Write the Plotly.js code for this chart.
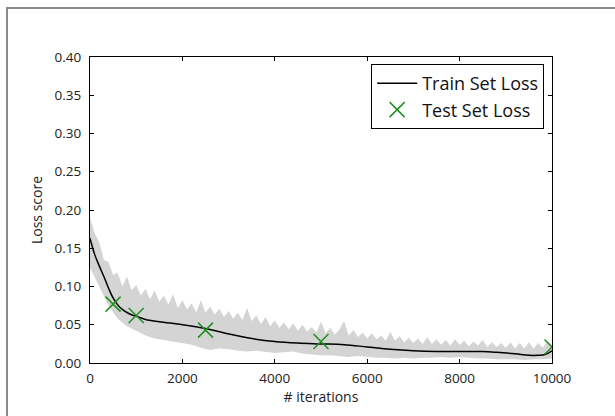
<!DOCTYPE html>
<html>
<head>
<meta charset="utf-8">
<script src="https://cdn.plot.ly/plotly-3.0.1.min.js"></script>
<style>
  html, body { margin: 0; padding: 0; background: #fff; }
  #wrap { position: relative; width: 615px; height: 416px; overflow: hidden; }
  #chart { width: 615px; height: 416px; }
  #frame { position: absolute; left: 6px; top: 7px; width: 700px; height: 500px;
           border-top: 2px solid #8a8a8a; border-left: 2px solid #8a8a8a; pointer-events: none; }
</style>
</head>
<body>
<div id="wrap">
  <div id="chart"></div>
  <div id="frame"></div>
</div>
<script>
// Raw training loss envelope (gray band)
const bandUpperX = [0,100,200,300,400,500,600,700,800,900,1000,1100,1200,1300,1400,1500,1600,1700,1800,1900,
  2000,2100,2200,2300,2400,2500,2600,2700,2800,2900,3000,3100,3200,3300,3400,3500,3600,3700,3800,3900,
  4000,4100,4200,4300,4400,4500,4600,4700,4800,4900,5000,5100,5200,5300,5400,5500,5600,5700,5800,5900,
  6000,6100,6200,6300,6400,6500,6600,6700,6800,6900,7000,7100,7200,7300,7400,7500,7600,7700,7800,7900,
  8000,8100,8200,8300,8400,8500,8600,8700,8800,8900,9000,9100,9200,9300,9400,9500,9600,9700,9800,9900,10000];
const bandUpperY = [0.190,0.170,0.158,0.135,0.132,0.115,0.118,0.100,0.113,0.095,0.102,0.088,0.097,0.083,0.095,0.080,0.088,0.076,0.090,0.072,
  0.082,0.070,0.078,0.066,0.082,0.066,0.074,0.063,0.071,0.060,0.068,0.058,0.066,0.056,0.072,0.055,0.062,0.051,0.060,0.048,
  0.056,0.046,0.053,0.044,0.052,0.042,0.050,0.041,0.047,0.040,0.054,0.039,0.046,0.037,0.044,0.055,0.036,0.043,0.034,0.040,
  0.032,0.039,0.031,0.036,0.029,0.041,0.029,0.035,0.027,0.033,0.026,0.032,0.025,0.034,0.025,0.031,0.024,0.030,0.023,0.031,
  0.024,0.029,0.022,0.028,0.023,0.030,0.021,0.027,0.021,0.026,0.020,0.027,0.019,0.026,0.019,0.027,0.019,0.026,0.020,0.028,0.024];
const bandLowerX = [0,200,400,600,800,1000,1200,1400,1600,1800,2000,2200,2400,2600,2800,3000,3200,3400,3600,3800,
  4000,4200,4400,4600,4800,5000,5200,5400,5600,5800,6000,6200,6400,6600,6800,7000,7200,7400,7600,7800,
  8000,8200,8400,8600,8800,9000,9200,9400,9600,9800,10000];
const bandLowerY = [0.125,0.100,0.075,0.058,0.048,0.042,0.036,0.032,0.030,0.028,0.027,0.024,0.020,0.017,0.019,0.018,0.016,0.015,0.016,0.014,
  0.013,0.014,0.015,0.012,0.011,0.010,0.010,0.009,0.008,0.009,0.008,0.007,0.007,0.006,0.007,0.006,0.007,0.007,0.008,0.007,
  0.008,0.007,0.006,0.006,0.005,0.005,0.005,0.004,0.005,0.005,0.006];

// Smoothed train set loss
const trainX = [0,100,200,300,400,500,600,700,800,900,1000,1200,1500,2000,2500,3000,3500,4000,4500,5000,
  5500,6000,6500,7000,7500,8000,8500,8800,9200,9500,9700,9850,10000];
const trainY = [0.163,0.142,0.127,0.113,0.098,0.085,0.076,0.070,0.066,0.063,0.061,0.057,0.054,0.050,0.045,0.038,0.032,0.028,0.026,0.025,
  0.024,0.021,0.018,0.016,0.015,0.015,0.015,0.014,0.012,0.010,0.010,0.011,0.016];

// Test set loss
const testX = [500, 1000, 2500, 5000, 10000];
const testY = [0.077, 0.062, 0.043, 0.028, 0.021];

const xTicks = [0, 2000, 4000, 6000, 8000, 10000];
const yTicks = [0, 0.05, 0.10, 0.15, 0.20, 0.25, 0.30, 0.35, 0.40];

const FONT = '"Open Sans", "DejaVu Sans", sans-serif';

const traces = [
  { x: bandLowerX, y: bandLowerY, type: 'scatter', mode: 'lines', line: { width: 0 },
    showlegend: false, hoverinfo: 'skip' },
  { x: bandUpperX, y: bandUpperY, type: 'scatter', mode: 'lines', line: { width: 0 },
    fill: 'tonexty', fillcolor: '#d4d4d4', showlegend: false, hoverinfo: 'skip' },
  { x: trainX, y: trainY, type: 'scatter', mode: 'lines', name: 'Train Set Loss',
    line: { color: '#000', width: 1.5, shape: 'spline', smoothing: 1 } },
  { x: testX, y: testY, type: 'scatter', mode: 'markers', name: 'Test Set Loss',
    marker: { symbol: 'x-thin', size: 15, color: '#1f8f1f', line: { color: '#1f8f1f', width: 1.5 } } }
];

const axisCommon = {
  showline: true, linecolor: '#000', linewidth: 1, mirror: 'ticks',
  ticks: 'inside', ticklen: 4, tickcolor: '#000', tickwidth: 1,
  showgrid: false, zeroline: false,
  tickfont: { family: FONT, size: 13.5, color: '#222' }
};

const layout = {
  width: 615, height: 416,
  margin: { l: 90, r: 63, t: 57, b: 53 },
  paper_bgcolor: '#fff', plot_bgcolor: '#fff',
  showlegend: true,
  legend: {
    x: 0.983, y: 0.977, xanchor: 'right', yanchor: 'top',
    traceorder: 'normal', itemwidth: 40,
    bordercolor: '#000', borderwidth: 1, bgcolor: '#fff',
    font: { family: FONT, size: 18, color: '#111' }
  },
  xaxis: Object.assign({}, axisCommon, {
    range: [0, 10000], tickvals: xTicks, ticktext: xTicks.map(String),
    ticklabelstandoff: 3,
    title: { text: '# iterations', font: { family: FONT, size: 14, color: '#222' }, standoff: 4 }
  }),
  yaxis: Object.assign({}, axisCommon, {
    range: [0, 0.40], tickvals: yTicks, ticktext: yTicks.map(v => v.toFixed(2)),
    ticklabelstandoff: 5,
    title: { text: 'Loss score', font: { family: FONT, size: 14, color: '#222' }, standoff: 8 }
  })
};

Plotly.newPlot('chart', traces, layout, { staticPlot: true, displayModeBar: false });
</script>
</body>
</html>
